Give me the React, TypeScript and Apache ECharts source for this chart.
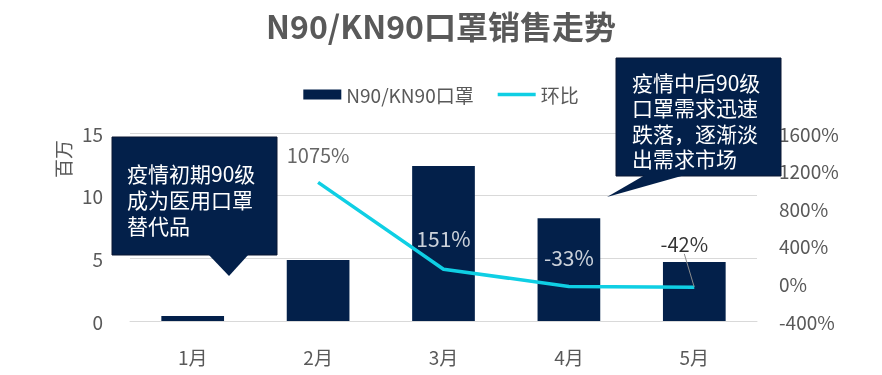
import React, { useEffect, useRef } from "react";
import * as echarts from "echarts";

const categories = ["1月", "2月", "3月", "4月", "5月"];
const salesValues = [0.4, 4.86, 12.36, 8.2, 4.7];
const momValues: (number | null)[] = [null, 1075, 151, -33, -42];
const leftTicks = { min: 0, max: 15, interval: 5 };
const rightTicks = { min: -400, max: 1600, interval: 400 };
const noteEarly = "疫情初期90级\n成为医用口罩\n替代品";
const noteLate = "疫情中后90级\n口罩需求迅速\n跌落，逐渐淡\n出需求市场";

const NAVY = "#03204A";
const CYAN = "#0FCFE4";
const GRAY = "#595959";
const FONT = "'Noto Sans CJK SC', 'Noto Sans', sans-serif";

const labelStyles = [
  null,
  { color: "#404040", distance: 17, fontSize: 20 },
  { color: "#ffffff", distance: 20, fontSize: 21 },
  { color: "#ffffff", distance: 19, fontSize: 21 },
  { color: "#000000", distance: 5, fontSize: 20 },
];

export default function App() {
  const ref = useRef<HTMLDivElement>(null);
  useEffect(() => {
    if (!ref.current) return;
    const chart = echarts.init(ref.current, undefined, { renderer: "svg" });
    const labelData = momValues.map((v, i) => {
      if (v === null) return null;
      const s = labelStyles[i] as any;
      const item: any = {
        value: v,
        label: {
          show: true,
          position: "top",
          distance: s.distance,
          color: s.color,
          fontSize: s.fontSize,
          formatter: "{c}%",
        },
      };
      if (i === 4) {
        item.labelLine = { show: true, lineStyle: { color: "#8c8c8c", width: 1 } };
      }
      return item;
    });
    const Z = 100;
    chart.setOption({
      animation: false,
      textStyle: { fontFamily: FONT },
      title: {
        text: "N90/KN90口罩销售走势",
        left: "center",
        top: 4,
        textStyle: { fontSize: 32, fontWeight: "bold", color: GRAY, fontFamily: FONT },
      },
      legend: {
        top: 80,
        left: "center",
        itemGap: 24,
        textStyle: { fontSize: 19, color: GRAY },
        data: [
          { name: "N90/KN90口罩", icon: "rect", itemStyle: { color: NAVY } },
          {
            name: "环比",
            icon: "path://M0,0 L40,0 L40,3.5 L0,3.5 Z",
            itemStyle: { color: CYAN },
          },
        ],
        itemWidth: 38,
        itemHeight: 10,
      },
      grid: { left: 130, right: 125, top: 133, bottom: 54 },
      xAxis: {
        type: "category",
        data: categories,
        axisLine: { show: true, lineStyle: { color: "#d9d9d9" } },
        axisTick: { show: false },
        axisLabel: { fontSize: 19, color: GRAY, margin: 26 },
      },
      yAxis: [
        {
          type: "value",
          min: leftTicks.min,
          max: leftTicks.max,
          interval: leftTicks.interval,
          axisLabel: { fontSize: 19, color: GRAY, margin: 27 },
          splitLine: { lineStyle: { color: "#d9d9d9" } },
          axisLine: { show: false },
          axisTick: { show: false },
        },
        {
          type: "value",
          min: rightTicks.min,
          max: rightTicks.max,
          interval: rightTicks.interval,
          axisLabel: {
            fontSize: 19,
            color: GRAY,
            formatter: (v: number) => v + "%",
            margin: 22,
          },
          splitLine: { show: false },
          axisLine: { show: false },
          axisTick: { show: false },
        },
      ],
      series: [
        {
          name: "N90/KN90口罩",
          type: "bar",
          data: salesValues,
          barWidth: "50%",
          itemStyle: { color: NAVY },
        },
        {
          name: "环比",
          type: "line",
          yAxisIndex: 1,
          data: momValues,
          symbol: "none",
          lineStyle: { color: CYAN, width: 3.5 },
          itemStyle: { color: CYAN },
          z: 3,
        },
        {
          name: "labels",
          type: "scatter",
          yAxisIndex: 1,
          data: labelData,
          symbolSize: 1,
          itemStyle: { color: "rgba(0,0,0,0)" },
          z: 4,
          labelLayout: (p: any) => (p.dataIndex === 4 ? { dx: -10, dy: -28 } : {}),
        },
      ],
      graphic: [
        {
          type: "text",
          x: 62,
          y: 159,
          rotation: Math.PI / 2,
          style: {
            text: "百万",
            fontSize: 19,
            fill: GRAY,
            fontFamily: FONT,
            align: "center",
            verticalAlign: "middle",
          },
        },
        {
          type: "rect",
          z: Z,
          shape: { x: 112, y: 137, width: 165, height: 118 },
          style: { fill: NAVY, stroke: "#0a1633", lineWidth: 1 },
        },
        {
          type: "polygon",
          z: Z,
          shape: { points: [[208, 254], [249, 254], [229, 276]] },
          style: { fill: NAVY },
        },
        {
          type: "text",
          z: Z + 1,
          x: 127,
          y: 160,
          style: {
            text: noteEarly,
            fontSize: 21,
            lineHeight: 26,
            fill: "#ffffff",
            fontFamily: FONT,
          },
        },
        {
          type: "rect",
          z: Z,
          shape: { x: 616, y: 58, width: 165, height: 118 },
          style: { fill: NAVY, stroke: "#0a1633", lineWidth: 1 },
        },
        {
          type: "polygon",
          z: Z,
          shape: { points: [[645, 175], [685, 175], [607, 197]] },
          style: { fill: NAVY },
        },
        {
          type: "text",
          z: Z + 1,
          x: 632,
          y: 69,
          style: {
            text: noteLate,
            fontSize: 21,
            lineHeight: 25.5,
            fill: "#ffffff",
            fontFamily: FONT,
          },
        },
      ],
    });
    return () => chart.dispose();
  }, []);
  return (
    <div
      ref={ref}
      style={{ position: "fixed", left: 0, top: 0, width: 882, height: 375 }}
    />
  );
}
